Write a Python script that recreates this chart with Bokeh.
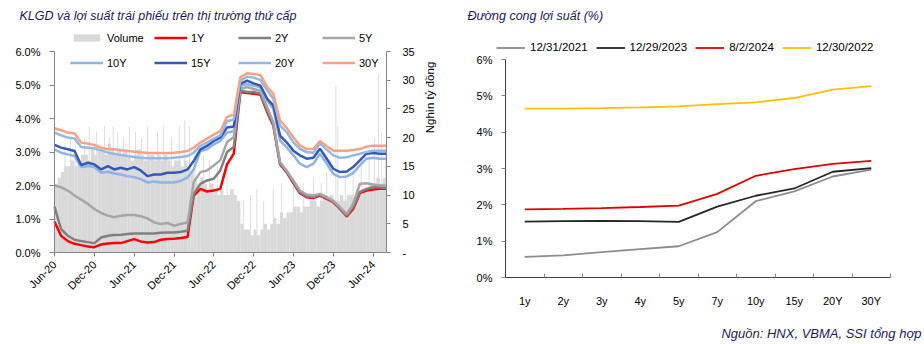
import pandas as pd
from math import pi
from bokeh.plotting import figure
from bokeh.models import (Range1d, LinearAxis, FixedTicker, PrintfTickFormatter,
                          DatetimeTickFormatter, Legend, LegendItem, Label)
from bokeh.layouts import row
from bokeh.embed import file_html
from bokeh.resources import INLINE

FONT = "Liberation Sans"
AX = "#868686"
TXT = "#000000"
TITLE_C = "#1b1b5e"

# ---------------- left chart data ----------------
months = pd.date_range("2020-06-01", "2024-08-01", freq="MS")  # 51 monthly points

y1 = [0.92, 0.50, 0.34, 0.26, 0.22, 0.18, 0.16, 0.24, 0.27, 0.28, 0.28, 0.34, 0.40, 0.33, 0.30, 0.31,
      0.38, 0.40, 0.41, 0.43, 0.46, 1.70, 1.90, 1.82, 1.85, 1.90, 2.63, 2.95, 4.79, 4.76, 4.74, 4.71,
      4.19, 3.79, 2.63, 2.40, 2.07, 1.77, 1.65, 1.63, 1.70, 1.60, 1.50, 1.30, 1.08, 1.30, 1.77, 1.85,
      1.88, 1.90, 1.90]
y2 = [1.37, 0.70, 0.50, 0.38, 0.34, 0.31, 0.28, 0.45, 0.50, 0.52, 0.53, 0.55, 0.57, 0.57, 0.57, 0.57,
      0.59, 0.60, 0.60, 0.62, 0.65, 1.75, 2.05, 2.15, 2.20, 2.45, 3.00, 3.15, 4.84, 4.79, 4.79, 4.74,
      4.24, 3.84, 2.65, 2.42, 2.10, 1.80, 1.68, 1.66, 1.72, 1.62, 1.52, 1.32, 1.10, 1.35, 1.80, 1.90,
      1.95, 1.95, 1.92]
y5 = [2.00, 1.95, 1.85, 1.70, 1.58, 1.45, 1.30, 1.18, 1.10, 1.05, 1.10, 1.12, 1.12, 1.08, 1.02, 0.90,
      0.85, 0.88, 0.80, 0.85, 0.90, 2.10, 2.40, 2.45, 2.60, 2.75, 3.30, 3.45, 4.88, 4.94, 4.88, 4.83,
      4.34, 3.89, 2.70, 2.45, 2.15, 1.85, 1.73, 1.70, 1.75, 1.65, 1.55, 1.35, 1.15, 1.45, 2.05, 2.07,
      2.03, 2.00, 2.00]
y10 = [3.08, 2.98, 2.93, 2.88, 2.55, 2.58, 2.55, 2.38, 2.41, 2.36, 2.33, 2.28, 2.25, 2.19, 2.09, 2.12,
       2.09, 2.09, 2.09, 2.14, 2.24, 2.48, 3.03, 3.08, 3.23, 3.33, 3.58, 3.62, 4.98, 5.03, 4.98, 4.93,
       4.54, 4.29, 3.34, 3.14, 2.90, 2.65, 2.55, 2.65, 2.95, 2.65, 2.35, 2.25, 2.27, 2.37, 2.60, 2.80,
       2.83, 2.80, 2.80]
y15 = [3.21, 3.13, 3.08, 3.03, 2.61, 2.68, 2.63, 2.48, 2.58, 2.48, 2.53, 2.48, 2.55, 2.45, 2.28, 2.33,
       2.33, 2.38, 2.38, 2.40, 2.48, 2.73, 3.08, 3.18, 3.33, 3.43, 3.73, 3.76, 5.03, 5.13, 5.05, 4.98,
       4.59, 4.39, 3.49, 3.29, 3.04, 2.90, 2.80, 2.83, 3.10, 2.80, 2.50, 2.40, 2.42, 2.55, 2.75, 2.95,
       2.97, 2.95, 2.95]
y20 = [3.58, 3.50, 3.43, 3.40, 3.15, 3.13, 3.11, 3.05, 2.98, 2.95, 2.91, 2.88, 2.85, 2.83, 2.81, 2.81,
       2.81, 2.81, 2.83, 2.85, 2.88, 2.98, 3.18, 3.28, 3.40, 3.50, 3.92, 3.97, 5.13, 5.25, 5.22, 5.15,
       4.84, 4.59, 3.79, 3.59, 3.29, 3.09, 3.00, 2.98, 3.25, 3.07, 2.90, 2.83, 2.84, 2.90, 2.95, 3.00,
       3.04, 3.04, 3.04]
y30 = [3.71, 3.65, 3.58, 3.55, 3.28, 3.25, 3.21, 3.13, 3.08, 3.08, 3.05, 3.03, 3.01, 2.99, 2.97, 2.97,
       2.97, 2.97, 2.98, 3.00, 3.03, 3.13, 3.28, 3.40, 3.52, 3.62, 4.05, 4.12, 5.23, 5.35, 5.33, 5.30,
       4.94, 4.74, 3.94, 3.72, 3.44, 3.19, 3.09, 3.09, 3.33, 3.17, 3.04, 3.04, 3.04, 3.06, 3.09, 3.16,
       3.19, 3.19, 3.19]

# half-month volume blocks (value for each interval starting at the date)
vol_dates = pd.date_range("2020-06-01", "2024-08-01", freq="SMS")  # 101 edges -> 100 blocks
vol_base = [12, 13, 14,
            15, 15, 16, 15,
            16, 17, 17, 16, 18, 17,
            18, 18, 17, 19, 18, 17, 18, 17,
            18, 17, 16, 17, 18, 17,
            16, 17, 17, 16, 17, 16, 17, 16, 15, 16, 16, 15, 16, 15,
            14, 13, 12, 13, 12, 11, 12, 11, 10, 11,
            10, 10, 11, 10, 9,
            5, 4, 4, 3, 4, 3, 4, 5, 4,
            5, 6, 5, 7, 6, 7,
            7, 8, 8, 7, 8, 8, 9,
            9, 8, 9, 10, 9, 10, 9,
            9, 10, 9, 10, 10, 9, 11, 10, 11, 11,
            12, 12, 13, 12, 13]

spike_dates = pd.to_datetime([
    "2020-07-19", "2020-08-13", "2020-09-07", "2020-10-16", "2020-11-07", "2020-12-10",
    "2021-01-16", "2021-02-07", "2021-02-25", "2021-03-16", "2021-04-13", "2021-05-10",
    "2021-06-07", "2021-07-04", "2021-08-01", "2021-09-16", "2021-10-13", "2021-11-19",
    "2021-12-25", "2022-01-19", "2022-02-10", "2022-03-07", "2022-04-16", "2022-05-13",
    "2022-06-19", "2022-08-01", "2022-10-16", "2022-11-16", "2022-12-16", "2023-01-16",
    "2023-03-01", "2023-04-07", "2023-06-01", "2023-07-16", "2023-09-01", "2023-10-07",
    "2023-11-01", "2023-12-13", "2023-12-22", "2024-01-25", "2024-03-01", "2024-04-07",
    "2024-05-13", "2024-06-07", "2024-06-25", "2024-07-10", "2024-07-28"])
spike_vals = [19, 20, 21, 20, 22, 21,
              22, 20, 22, 21, 20, 22,
              21, 20, 22, 21, 22, 20,
              22, 23, 22, 19, 17, 16,
              15, 14, 9, 10, 11, 9,
              11, 12, 13, 12, 13, 12,
              14, 29, 22, 14, 15, 16,
              18, 20, 31, 21, 18]

xtick_dates = pd.to_datetime(["2020-06-01", "2020-12-01", "2021-06-01", "2021-12-01", "2022-06-01",
                              "2022-12-01", "2023-06-01", "2023-12-01", "2024-06-01"])
yticks_pct = [0, 1, 2, 3, 4, 5, 6]
vol_ticks = [0, 5, 10, 15, 20, 25, 30, 35]

# ---------------- right chart data ----------------
tenors = ["1y", "2y", "3y", "4y", "5y", "7y", "10y", "15y", "20Y", "30Y"]
c2021 = [0.57, 0.61, 0.70, 0.78, 0.86, 1.25, 2.10, 2.37, 2.78, 2.97]
c2023 = [1.54, 1.55, 1.56, 1.55, 1.53, 1.95, 2.25, 2.45, 2.91, 3.01]
c2024 = [1.875, 1.89, 1.91, 1.94, 1.98, 2.30, 2.80, 2.98, 3.13, 3.21]
c2022 = [4.65, 4.65, 4.66, 4.68, 4.71, 4.77, 4.82, 4.94, 5.17, 5.27]

# ================= layout geometry (pixels) =================
W1, W2, H = 460, 464, 344
L_X0, L_X1, L_Y0, L_Y6 = 54, 386, 252, 51
R_X0, R_X1, R_Y0, R_Y6 = 505, 890, 277, 59

d0 = pd.Timestamp("2020-06-01")
d1 = pd.Timestamp("2024-08-01")
ms0, ms1 = d0.value / 1e6, d1.value / 1e6
pxms = (ms1 - ms0) / (L_X1 - L_X0)
pct_px = (L_Y0 - L_Y6) / 6.0
ylo, yhi = -(H - L_Y0) / pct_px, L_Y0 / pct_px

# ================= left figure =================
p1 = figure(width=W1, height=H, x_axis_type="datetime",
            x_range=Range1d(ms0 - L_X0 * pxms, ms1 + (W1 - L_X1) * pxms),
            y_range=Range1d(ylo, yhi), output_backend="svg", toolbar_location=None,
            title_location=None, min_border=0)
p1.outline_line_color = None
p1.grid.visible = False
p1.extra_y_ranges = {"vol": Range1d(ylo * 35 / 6, yhi * 35 / 6)}

DAY = 86400000
vol_r = p1.quad(left=vol_dates[:-1], right=vol_dates[1:], bottom=0, top=vol_base,
                color="#d9d9d9", line_color=None, y_range_name="vol")
p1.vbar(x=spike_dates, top=spike_vals, width=4 * DAY, color="#d9d9d9", line_color=None, y_range_name="vol")

LW = 2.5
r1 = p1.line(months, y1, color="#ff0000", line_width=LW)
r2 = p1.line(months, y2, color="#808080", line_width=LW)
r5 = p1.line(months, y5, color="#a6a6a6", line_width=LW)
r10 = p1.line(months, y10, color="#8db4e2", line_width=LW)
r15 = p1.line(months, y15, color="#3559b8", line_width=LW)
r20 = p1.line(months, y20, color="#95b9e6", line_width=LW)
r30 = p1.line(months, y30, color="#f9a283", line_width=LW)

yax = p1.yaxis[0]
yax.ticker = FixedTicker(ticks=yticks_pct)
yax.formatter = PrintfTickFormatter(format="%.1f%%")
yax.fixed_location = ms0
yax.bounds = (0, 6)
xax = p1.xaxis[0]
xax.ticker = FixedTicker(ticks=[d.value // 10**6 for d in xtick_dates])
xax.formatter = DatetimeTickFormatter(months="%b-%y", years="%b-%y", days="%b-%y")
xax.major_label_orientation = pi / 4
xax.fixed_location = 0
xax.bounds = (ms0, ms1)

rax = LinearAxis(y_range_name="vol", ticker=FixedTicker(ticks=vol_ticks),
                 major_label_overrides={0: "-"}, fixed_location=ms1, bounds=(0, 35))
p1.add_layout(rax, "right")

for ax in [yax, xax, rax]:
    ax.axis_line_color = AX
    ax.major_tick_line_color = AX
    ax.minor_tick_line_color = None
    ax.major_tick_in = 0
    ax.major_tick_out = 4
    ax.major_label_text_font = FONT
    ax.major_label_text_font_size = "11px"
    ax.major_label_text_color = TXT
yax.major_tick_out = 5
yax.major_label_standoff = 9
rax.major_label_standoff = 12
xax.major_label_standoff = 6

def mk_legend(items, loc):
    return Legend(items=items, location=loc, orientation="horizontal",
                  glyph_width=33, glyph_height=9, label_height=12, label_standoff=4,
                  label_width=40, spacing=7, padding=0, margin=0,
                  border_line_color=None, background_fill_alpha=0,
                  label_text_font=FONT, label_text_font_size="11px", label_text_color=TXT)

leg_a = mk_legend([LegendItem(label="Volume", renderers=[vol_r]), LegendItem(label="1Y", renderers=[r1]),
                   LegendItem(label="2Y", renderers=[r2]), LegendItem(label="5Y", renderers=[r5])],
                  (70, H - 43.5))
leg_b = mk_legend([LegendItem(label="10Y", renderers=[r10]), LegendItem(label="15Y", renderers=[r15]),
                   LegendItem(label="20Y", renderers=[r20]), LegendItem(label="30Y", renderers=[r30])],
                  (70, H - 68.5))
p1.add_layout(leg_a)
p1.add_layout(leg_b)

p1.add_layout(Label(x=429, y=H - 97, x_units="screen", y_units="screen", text="Nghìn tỷ đồng",
                    angle=pi / 2, text_align="center", text_baseline="middle",
                    text_font=FONT, text_font_size="11.5px", text_color=TXT))
p1.add_layout(Label(x=19, y=H - 15, x_units="screen", y_units="screen",
                    text="KLGD và lợi suất trái phiếu trên thị trường thứ cấp",
                    text_align="left", text_baseline="middle", text_font=FONT,
                    text_font_size="12.5px", text_font_style="italic", text_color=TITLE_C))

# ================= right figure =================
cat_px = (R_X1 - R_X0) / len(tenors)
r_pct_px = (R_Y0 - R_Y6) / 6.0
p2 = figure(width=W2, height=H,
            x_range=Range1d(-(R_X0 - W1) / cat_px, len(tenors) + (W1 + W2 - R_X1) / cat_px),
            y_range=Range1d(-(H - R_Y0) / r_pct_px, R_Y0 / r_pct_px),
            output_backend="svg", toolbar_location=None, title_location=None, min_border=0)
p2.outline_line_color = None
p2.grid.visible = False

centers = [i + 0.5 for i in range(len(tenors))]
bounds = list(range(len(tenors) + 1))
LW2 = 1.8
g1 = p2.line(centers, c2021, color="#8c8c8c", line_width=LW2)
g2 = p2.line(centers, c2023, color="#262626", line_width=LW2)
g3 = p2.line(centers, c2024, color="#e00000", line_width=LW2)
g4 = p2.line(centers, c2022, color="#ffc000", line_width=LW2)

x2 = p2.xaxis[0]
x2.ticker = FixedTicker(ticks=centers, minor_ticks=bounds)
x2.major_label_overrides = {c: t for c, t in zip(centers, tenors)}
x2.major_tick_line_color = None
x2.minor_tick_line_color = AX
x2.minor_tick_in = 4
x2.minor_tick_out = 0
x2.major_label_standoff = 11
x2.fixed_location = 0
x2.bounds = (0, len(tenors))
y2ax = p2.yaxis[0]
y2ax.ticker = FixedTicker(ticks=yticks_pct)
y2ax.formatter = PrintfTickFormatter(format="%d%%")
y2ax.major_tick_line_color = AX
y2ax.minor_tick_line_color = None
y2ax.major_tick_in = 0
y2ax.major_tick_out = 4
y2ax.major_label_standoff = 9
y2ax.fixed_location = 0
y2ax.bounds = (0, 6)
for ax in [x2, y2ax]:
    ax.axis_line_color = "#404040"
    ax.major_label_text_font = FONT
    ax.major_label_text_font_size = "11px"
    ax.major_label_text_color = TXT

leg2 = Legend(items=[LegendItem(label="12/31/2021", renderers=[g1]), LegendItem(label="12/29/2023", renderers=[g2]),
                     LegendItem(label="8/2/2024", renderers=[g3]), LegendItem(label="12/30/2022", renderers=[g4])],
              location=(496 - W1, H - 53.5), orientation="horizontal", glyph_width=29, glyph_height=9,
              label_height=13, label_standoff=5, spacing=8, padding=0, margin=0, border_line_color=None,
              background_fill_alpha=0, label_text_font=FONT, label_text_font_size="11.5px", label_text_color=TXT)
p2.add_layout(leg2)

p2.add_layout(Label(x=467 - W1, y=H - 15, x_units="screen", y_units="screen", text="Đường cong lợi suất (%)",
                    text_align="left", text_baseline="middle", text_font=FONT, text_font_size="12.5px",
                    text_font_style="italic", text_color=TITLE_C))
p2.add_layout(Label(x=921 - W1, y=H - 333, x_units="screen", y_units="screen",
                    text="Nguồn: HNX, VBMA, SSI tổng hợp",
                    text_align="right", text_baseline="middle", text_font=FONT, text_font_size="13px",
                    text_font_style="italic", text_color=TITLE_C))

layout = row(p1, p2)
open("out.html", "w").write(file_html(layout, INLINE))
